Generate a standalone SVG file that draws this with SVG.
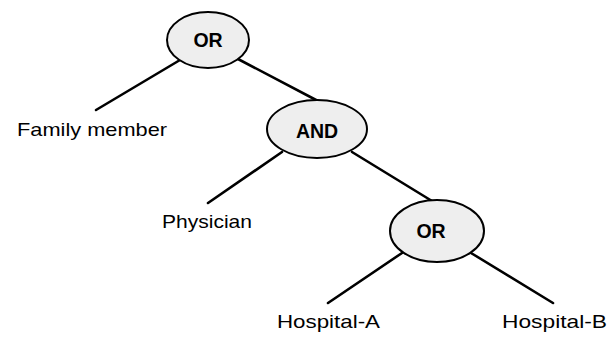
<svg xmlns="http://www.w3.org/2000/svg" width="608" height="338" viewBox="0 0 608 338">
  <style>
    .edge { stroke: #000; stroke-width: 2.6; stroke-linecap: round; fill: none; }
    .gate { fill: #eeeeee; stroke: #000; stroke-width: 2; }
    .gate-label { font-family: "Liberation Sans", Arial, sans-serif; font-weight: bold; font-size: 19.5px; fill: #000; text-anchor: middle; }
    .leaf { font-family: "Liberation Sans", Arial, sans-serif; font-size: 19px; fill: #000; }
  </style>
  <rect width="608" height="338" fill="#ffffff"/>

  <!-- tree edges -->
  <g id="connectors">
    <line class="edge" x1="180" y1="60" x2="96" y2="110"/>
    <line class="edge" x1="238" y1="59" x2="318" y2="101"/>
    <line class="edge" x1="282" y1="152" x2="208" y2="203"/>
    <line class="edge" x1="352" y1="152" x2="432" y2="201"/>
    <line class="edge" x1="402" y1="253" x2="328" y2="303"/>
    <line class="edge" x1="471" y1="253" x2="553" y2="303"/>
  </g>

  <!-- gate nodes -->
  <g id="or-root">
    <ellipse class="gate" cx="208" cy="40" rx="41" ry="28"/>
    <text class="gate-label" x="208" y="47">OR</text>
  </g>
  <g id="and-gate">
    <ellipse class="gate" cx="317" cy="129" rx="50" ry="29"/>
    <text class="gate-label" x="317" y="138">AND</text>
  </g>
  <g id="or-hospital">
    <ellipse class="gate" cx="437" cy="231" rx="47" ry="31"/>
    <text class="gate-label" x="431" y="238">OR</text>
  </g>

  <!-- leaf labels -->
  <g id="family-member">
    <text class="leaf" x="17" y="136" textLength="150" lengthAdjust="spacingAndGlyphs">Family member</text>
  </g>
  <g id="physician">
    <text class="leaf" x="162" y="228" textLength="90" lengthAdjust="spacingAndGlyphs">Physician</text>
  </g>
  <g id="hospital-a">
    <text class="leaf" x="277" y="328" textLength="103" lengthAdjust="spacingAndGlyphs">Hospital-A</text>
  </g>
  <g id="hospital-b">
    <text class="leaf" x="502" y="328" textLength="105" lengthAdjust="spacingAndGlyphs">Hospital-B</text>
  </g>
</svg>
